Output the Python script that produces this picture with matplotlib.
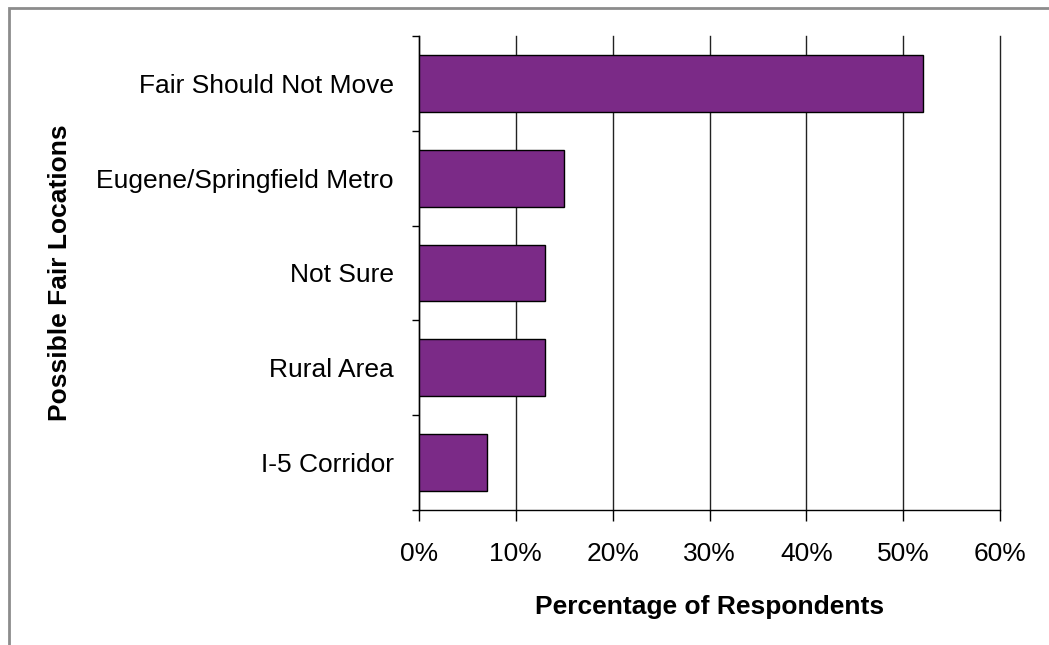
import matplotlib.pyplot as plt
from matplotlib.patches import Rectangle
from matplotlib.ticker import FuncFormatter

# data, top to bottom
locations = ['Fair Should Not Move', 'Eugene/Springfield Metro', 'Not Sure', 'Rural Area', 'I-5 Corridor']
percents = [52, 15, 13, 13, 7]

plt.rcParams['font.family'] = ['Liberation Sans', 'DejaVu Sans']

fig = plt.figure(figsize=(10.49, 6.45), dpi=100)
ax = fig.add_axes([419 / 1049, 1 - 510 / 645, 581 / 1049, 474 / 645])

# outer frame of the picture
fig.patches.append(Rectangle((9 / 1049, -0.1), 1.2, (645 - 8) / 645 + 0.1, transform=fig.transFigure,
                             fill=False, edgecolor='#8c8c8c', linewidth=2))

ypos = list(range(len(locations)))[::-1]
ax.barh(ypos, percents, height=0.6, color='#7b2a87', edgecolor='black', linewidth=1, zorder=3)

ax.set_xlim(0, 60)
ax.set_ylim(-0.5, len(locations) - 0.5)
ax.set_xticks(range(0, 61, 10))
ax.xaxis.set_major_formatter(FuncFormatter(lambda v, p: '%d%%' % v))
ax.set_yticks(ypos)
ax.set_yticklabels(locations)
ax.set_yticks([i - 0.5 for i in range(len(locations) + 1)], minor=True)
ax.tick_params(axis='y', which='major', length=0, pad=18, labelsize=19)
ax.tick_params(axis='y', which='minor', length=5, direction='out', width=1)
ax.tick_params(axis='x', length=8, width=1, pad=15, labelsize=19)

ax.grid(axis='x', color='#222222', linewidth=1, zorder=0)
for gl in ax.get_xgridlines():
    gl.set_clip_on(False)
for s in ['top', 'right']:
    ax.spines[s].set_visible(False)
ax.spines['left'].set_linewidth(1)
ax.spines['bottom'].set_linewidth(1)

ax.set_xlabel('Percentage of Respondents', fontsize=19, fontweight='bold', labelpad=21)
ax.set_ylabel('Possible Fair Locations', fontsize=19, fontweight='bold')
ax.yaxis.set_label_coords(-0.597, 0.5)

fig.savefig('out.png', dpi=100)
